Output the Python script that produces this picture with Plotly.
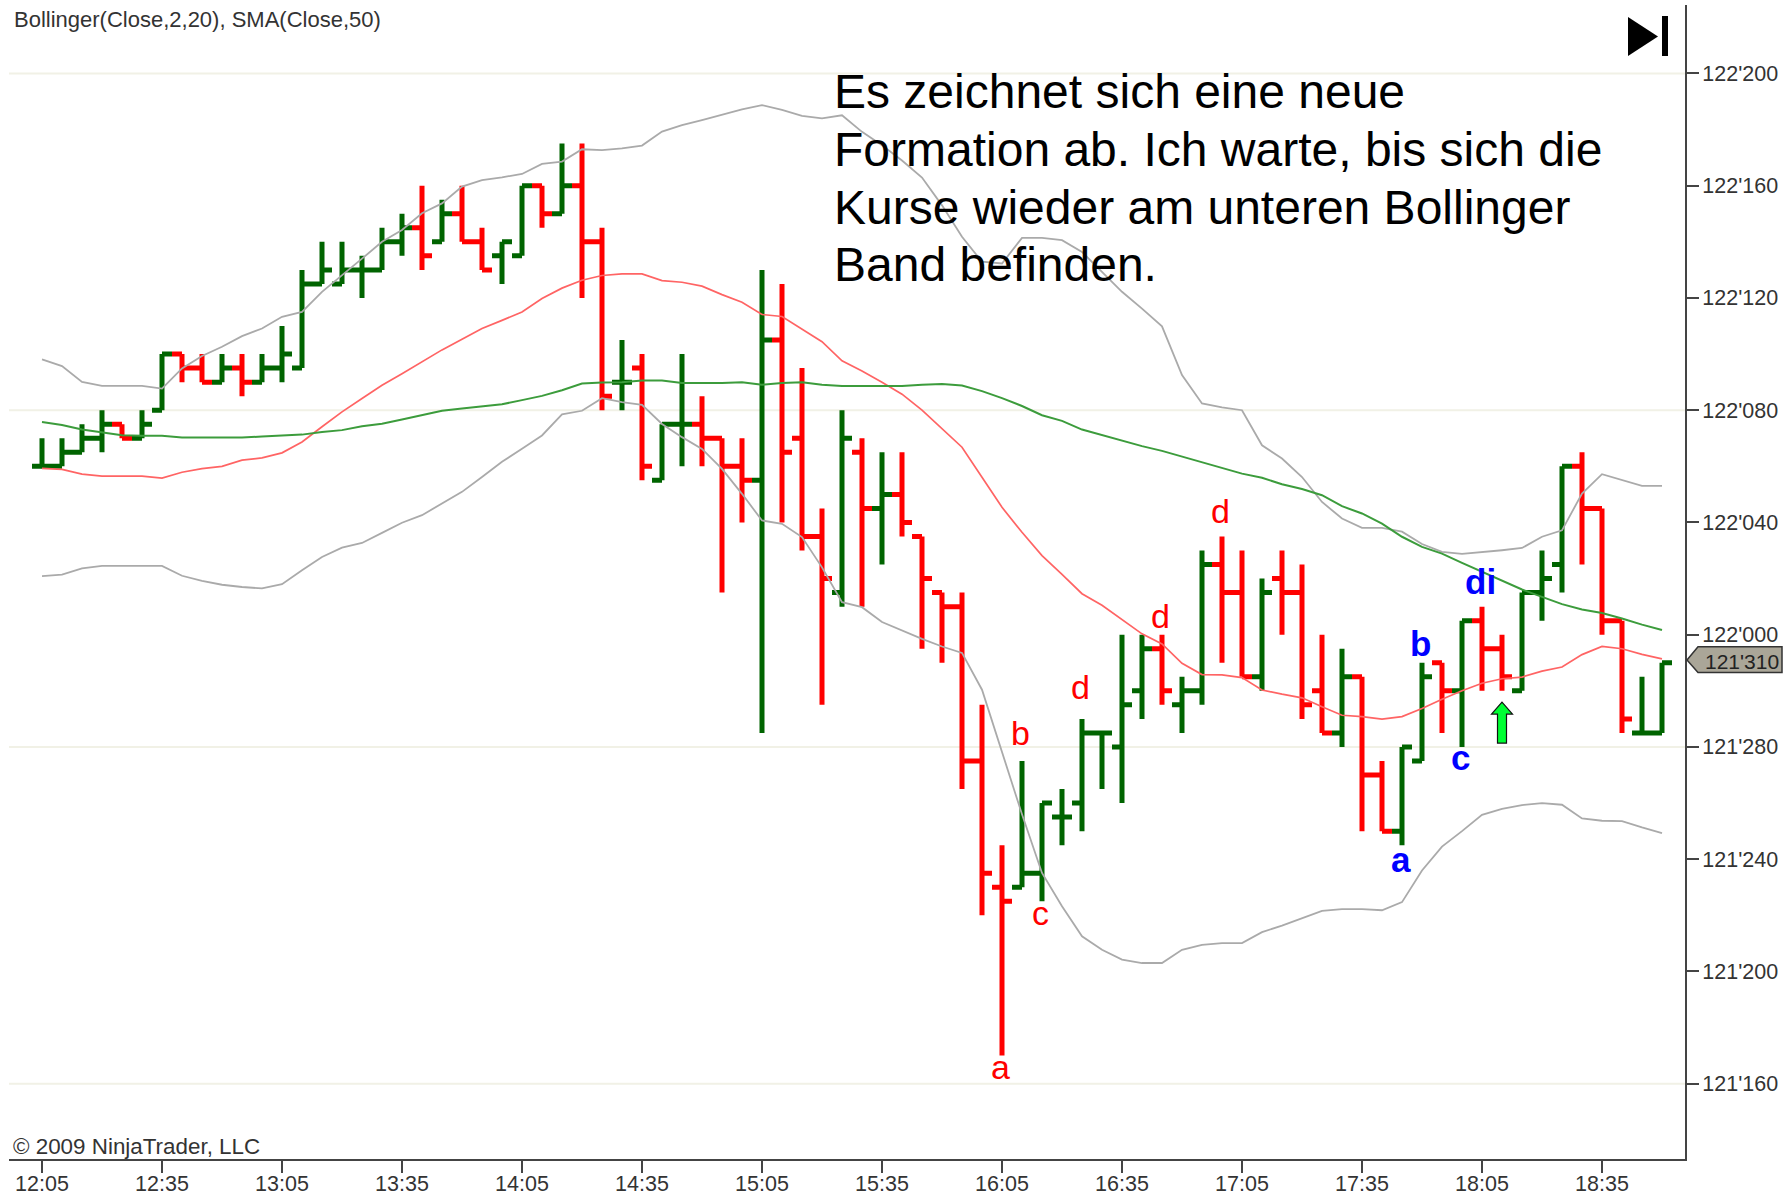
import plotly.graph_objects as go

W, H = 1787, 1197
ML, MR, MT, MB = 9, 102, 5, 38

# Prices are tenths of a 32nd, relative to 122'000
OPEN = [60,60,65,70,75,70,80,100,95,90,95,90,95,95,125,125,130,130,140,145,140,150,140,135,135,160,150,160,140,90,
        95,55,75,75,70,60,55,105,70,35,15,65,45,50,35,15,10,-45,-90,-90,-85,-65,-60,-35,-40,-20,-5,-25,-20,25,
        15,-15,20,15,-20,-35,-15,-50,-70,-45,-10,-20,5,-5,-20,15,25,60,45,5,-35,-35]
HIGH = [70,70,75,80,75,80,100,100,100,100,100,100,110,130,140,140,135,145,150,160,155,160,145,140,160,160,175,175,145,105,
        100,75,100,85,70,70,130,125,95,45,80,70,65,65,35,15,15,-25,-75,-45,-60,-55,-30,-35,0,0,0,-15,30,35,
        30,20,30,25,0,-5,-15,-45,-40,-10,-10,5,10,0,15,30,60,65,45,5,-15,-10]
LOW = [60,60,65,65,70,70,80,90,90,90,85,90,90,95,125,125,120,130,135,130,140,140,130,125,135,145,150,120,80,80,
       55,55,60,60,15,40,-35,40,30,-25,10,10,25,35,-5,-10,-55,-100,-150,-90,-95,-75,-70,-55,-60,-30,-25,-35,-25,-10,
       -15,-20,0,-30,-35,-40,-70,-70,-75,-45,-35,-40,-20,-20,-20,5,15,25,0,-35,-35,-35]
CLOSE = [60,65,70,75,70,75,100,95,90,95,90,95,100,125,130,130,130,140,145,135,150,140,130,140,160,150,160,140,85,90,
         60,75,75,70,60,55,105,65,35,20,70,45,50,40,20,10,-45,-85,-95,-85,-60,-65,-35,-35,-25,-5,-20,-20,25,15,
         -15,15,15,-25,-35,-15,-50,-70,-40,-15,-20,5,-5,-15,15,20,60,45,5,-30,-35,-10]
IS_UP = [1,1,1,1,0,1,1,0,0,1,0,1,1,1,1,1,1,1,1,0,1,0,0,1,1,0,1,0,0,1,
         0,1,1,0,0,0,1,0,0,0,1,0,1,0,0,0,0,0,0,1,1,1,1,1,1,1,0,1,1,0,
         0,1,0,0,0,1,0,0,1,1,0,1,0,0,1,1,1,0,0,0,1,1]

BB_UPPER = [98.1,95.7,90.1,88.7,88.7,88.7,87.7,94.9,99.3,102.6,106.4,109.1,113.3,115,122.2,128,134,140,144.2,150.2,
            153.7,159.7,162,163,164.2,167.8,168.6,173,172.7,173.3,174.3,179.3,181.6,183.4,185.2,187.2,188.7,187,184.9,184,
            185.1,179.2,174.4,169,162.9,153,141.8,132.9,132.3,141.4,141.4,140.6,136.4,129.3,122.2,116.2,109.9,92.5,82.4,81,
            80,67.5,62.8,56.2,47.3,41.4,38.1,38.1,36.7,32.3,29.5,28.8,29.4,30.1,30.9,34.9,37.2,50.3,57.2,55,53,53]
SMA20 = [59.3,58.9,57.2,56.5,56.5,56.5,55.8,57.9,59.2,60,62.2,63,64.8,68.7,74.1,79.4,84.2,88.9,93,97.2,
         101.5,105.3,109.1,112,115,119.8,123.5,126.3,128,128.6,128.6,126.2,125.6,124.2,121.2,118.5,114.1,113.4,109,104.4,
         97.6,94,90,85.7,80,73.3,66.8,56.1,45.4,36.5,28.2,21.5,14.6,10.5,5.4,0.3,-3.3,-10.2,-14.2,-14.3,
         -15.3,-19.7,-21.2,-22.5,-25.7,-28.7,-29.2,-30.1,-29.2,-26.3,-23,-20,-17.3,-15.7,-15.1,-13,-11.5,-7.1,-4.2,-5,-7,-8.6]
BB_LOWER = [20.9,21.4,23.6,24.5,24.5,24.5,24.5,21,19.2,17.8,17,16.5,18,23,27.7,31,32.7,36.3,39.9,42.6,
            46.8,50.9,56.2,61.6,66.3,71,78.5,79.8,84.3,82.9,81.9,75.1,70.4,66.2,59.1,50.2,40.7,39.5,34.8,24,
            11.6,9.8,4.5,1.5,-1.5,-4.2,-6.5,-19.6,-42,-64,-84.9,-96.8,-107.5,-112.3,-115.8,-117,-117,-112.3,-110.5,-109.9,
            -109.9,-106,-103.7,-101,-98.4,-97.8,-97.8,-98.2,-95.3,-84,-75.5,-70,-64.2,-62.1,-60.7,-60,-60.6,-65.5,-66.3,-66.4,-68.7,-70.7]
SMA50 = [75.8,74.7,73.1,72,71.1,70.9,70.9,70.3,70.3,70.3,70.3,70.6,70.9,71.3,72.2,72.9,74.3,75.2,76.7,78.2,
         79.8,80.6,81.4,82.1,83.6,85.1,87.1,89.5,89.9,90,90.6,90.6,89.7,89.7,89.7,90,89.1,89.7,90,89.1,
         88.6,88.6,88.6,88.6,89.1,89.3,88.8,86.8,84.3,81.5,78.2,76.2,73.1,71.1,69.3,67.2,65.5,63.5,61.5,59.6,
         57.4,55.9,53.6,51.9,49.7,45.8,43.2,39.6,34.9,31.3,28.9,25.6,22.4,19.4,16.1,13.5,10.9,9,7.7,5.8,3.6,1.7]

Y_TICKS = [200,160,120,80,40,0,-40,-80,-120,-160]
Y_LABELS = ["122'200","122'160","122'120","122'080","122'040","122'000","121'280","121'240","121'200","121'160"]
GRID_LEVELS = [200,80,-40,-160]
X_TICKS = [0,6,12,18,24,30,36,42,48,54,60,66,72,78]
X_LABELS = ["12:05","12:35","13:05","13:35","14:05","14:35","15:05","15:35","16:05","16:35","17:05","17:35","18:05","18:35"]

RED_LABELS = ["a","b","c","d","d","d"]
RED_LABEL_BARS = [48,49,50,52,56,59]
RED_LABEL_PRICES = [-154,-35,-99,-18.6,6.7,44]
BLUE_LABELS = ["a","b","c","di"]
BLUE_LABEL_BARS = [68,69,71,72]
BLUE_LABEL_PRICES = [-80,-3.2,-43.6,19]

COMMENT_LINES = ["Es zeichnet sich eine neue","Formation ab. Ich warte, bis sich die",
                 "Kurse wieder am unteren Bollinger","Band befinden."]
LAST_PRICE = -10
LAST_LABEL = "121'310"
ARROW_BAR = 73
ARROW_PRICE = -24

FONT = "Liberation Sans, Arial, sans-serif"
bars = list(range(len(CLOSE)))

def px(x):
    return (x - ML) / (W - ML - MR)
def py(y):
    return 1 - (y - MT) / (H - MT - MB)

fig = go.Figure()
for name, col, flag in [("down", "#ff0000", 0), ("up", "#006400", 1)]:
    idx = [i for i in bars if IS_UP[i] == flag]
    fig.add_trace(go.Ohlc(
        x=idx,
        open=[OPEN[i] for i in idx], high=[HIGH[i] for i in idx],
        low=[LOW[i] for i in idx], close=[CLOSE[i] for i in idx],
        line=dict(width=5),
        increasing=dict(line=dict(color=col, width=5)),
        decreasing=dict(line=dict(color=col, width=5)),
        tickwidth=0.5, name=name, showlegend=False))

for vals, col, w in [(BB_UPPER, "#aaaaaa", 1.8), (BB_LOWER, "#aaaaaa", 1.8),
                     (SMA20, "#ff6464", 1.7), (SMA50, "#3c9c3c", 2)]:
    fig.add_trace(go.Scatter(x=bars, y=vals, mode="lines", showlegend=False,
                             line=dict(color=col, width=w)))

shapes = [dict(type="line", xref="paper", x0=0, x1=1, yref="y", y0=g, y1=g, layer="below",
               line=dict(color="#f1f1e6", width=2)) for g in GRID_LEVELS]

# price tag on the axis
tag = (f"M {px(1687)} {LAST_PRICE+1} L {px(1698)} {LAST_PRICE+5.7} L {px(1782)} {LAST_PRICE+5.7} "
       f"L {px(1782)} {LAST_PRICE-3.5} L {px(1698)} {LAST_PRICE-3.5} Z")
shapes.append(dict(type="path", xref="paper", yref="y", path=tag, layer="above",
                   fillcolor="#aaa698", line=dict(color="#333333", width=1.5)))
# signal arrow
shapes.append(dict(type="path", xref="x", yref="y", xsizemode="pixel", ysizemode="pixel",
                   xanchor=ARROW_BAR, yanchor=ARROW_PRICE,
                   path="M 0 0 L -10.5 -12 L -4.5 -12 L -4.5 -41 L 4.5 -41 L 4.5 -12 L 10.5 -12 Z",
                   fillcolor="#00ff33", line=dict(color="#111111", width=1.2), layer="above"))
# "last bar" icon
shapes.append(dict(type="path", xref="paper", yref="paper",
                   path=f"M {px(1628)} {py(17)} L {px(1658)} {py(36.5)} L {px(1628)} {py(56)} Z",
                   fillcolor="#000000", line=dict(width=0)))
shapes.append(dict(type="rect", xref="paper", yref="paper", x0=px(1662), x1=px(1668), y0=py(56), y1=py(16),
                   fillcolor="#000000", line=dict(width=0)))

ann = []
for t, b, p in zip(RED_LABELS, RED_LABEL_BARS, RED_LABEL_PRICES):
    ann.append(dict(x=b, y=p, text=t, showarrow=False, xanchor="center", yanchor="middle", xshift=-1.5,
                    font=dict(family=FONT, size=34, color="#ff0000")))
for t, b, p in zip(BLUE_LABELS, BLUE_LABEL_BARS, BLUE_LABEL_PRICES):
    ann.append(dict(x=b, y=p, text=f"<b>{t}</b>", showarrow=False, xanchor="center", yanchor="middle", xshift=-1.5,
                    font=dict(family=FONT, size=35, color="#0000ff")))
for k, t in enumerate(COMMENT_LINES):
    ann.append(dict(xref="paper", yref="paper", x=px(832), y=py(91.5 + 57.8 * k), text=t, showarrow=False,
                    xanchor="left", yanchor="middle", font=dict(family=FONT, size=48, color="#000000")))
ann.append(dict(xref="paper", yref="paper", x=px(12), y=py(19.5), text="Bollinger(Close,2,20), SMA(Close,50)",
                showarrow=False, xanchor="left", yanchor="middle", font=dict(family=FONT, size=22, color="#333333")))
ann.append(dict(xref="paper", yref="paper", x=px(11), y=py(1146), text="© 2009 NinjaTrader, LLC",
                showarrow=False, xanchor="left", yanchor="middle", font=dict(family=FONT, size=22.4, color="#333333")))
ann.append(dict(xref="paper", yref="paper", x=px(1742), y=py(661), text=LAST_LABEL,
                showarrow=False, xanchor="center", yanchor="middle", font=dict(family=FONT, size=21, color="#222222")))

fig.update_layout(
    width=W, height=H, autosize=False,
    margin=dict(l=ML, r=MR, t=MT, b=MB, pad=0, autoexpand=False),
    paper_bgcolor="#ffffff", plot_bgcolor="#ffffff",
    showlegend=False, shapes=shapes, annotations=ann,
    font=dict(family=FONT, size=21.5, color="#333333"),
    xaxis=dict(range=[-1.65, 82.15], tickmode="array", tickvals=X_TICKS, ticktext=X_LABELS, automargin=False,
               showgrid=False, zeroline=False, showline=True, linecolor="#444444", linewidth=2,
               ticks="outside", ticklen=12, tickwidth=2, tickcolor="#444444", ticklabelstandoff=-8,
               tickangle=0, rangeslider=dict(visible=False), fixedrange=True),
    yaxis=dict(range=[-186.84, 224.4], side="right", tickmode="array", tickvals=Y_TICKS, ticktext=Y_LABELS, automargin=False,
               showgrid=False, zeroline=False, showline=True, linecolor="#444444", linewidth=2,
               ticks="outside", ticklen=12, tickwidth=2, tickcolor="#444444", ticklabelstandoff=-1, fixedrange=True),
)

fig.write_html("out.html", config=dict(displayModeBar=False),
               post_script="document.body.style.margin='0';document.body.style.overflow='hidden';")
